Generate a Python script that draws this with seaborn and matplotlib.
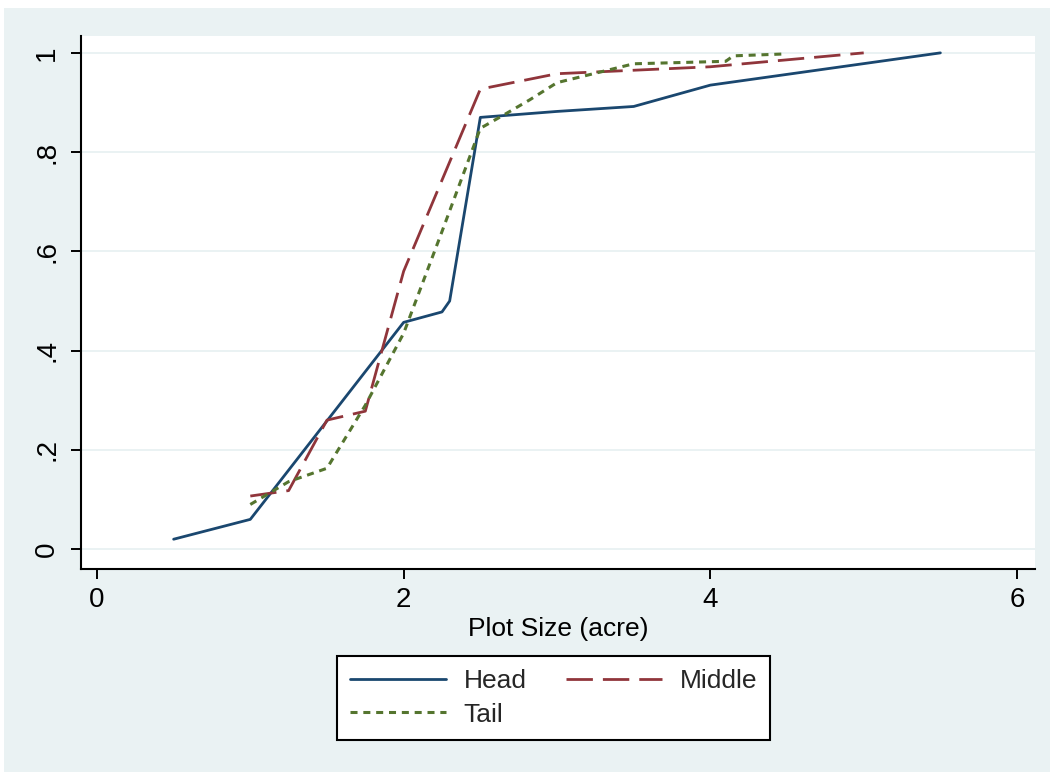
import matplotlib
matplotlib.use("Agg")
import matplotlib.pyplot as plt
import seaborn as sns
from matplotlib.patches import Rectangle

# ---- data ----
head_x = [0.5, 1.0, 2.0, 2.25, 2.3, 2.5, 3.0, 3.5, 4.0, 5.5]
head_y = [0.02, 0.06, 0.457, 0.478, 0.50, 0.870, 0.882, 0.892, 0.935, 1.0]

middle_x = [1.0, 1.25, 1.5, 1.75, 2.0, 2.5, 3.0, 3.5, 4.0, 5.0]
middle_y = [0.107, 0.118, 0.26, 0.278, 0.56, 0.927, 0.958, 0.965, 0.972, 1.0]

tail_x = [1.0, 1.25, 1.5, 1.75, 2.0, 2.25, 2.5, 2.67, 2.82, 3.0, 3.25, 3.5, 4.1, 4.15, 4.5]
tail_y = [0.09, 0.136, 0.163, 0.29, 0.435, 0.64, 0.848, 0.878, 0.905, 0.94, 0.959, 0.978, 0.983, 0.994, 0.998]

series_labels = ["Head", "Middle", "Tail"]
x_ticks = [0, 2, 4, 6]
x_tick_labels = ["0", "2", "4", "6"]
y_ticks = [0, 0.2, 0.4, 0.6, 0.8, 1.0]
y_tick_labels = ["0", ".2", ".4", ".6", ".8", "1"]
x_label = "Plot Size (acre)"

# ---- style ----
sns.set_theme(style="white")
plt.rcParams["font.family"] = ["Liberation Sans", "DejaVu Sans"]

NAVY = "#1a476f"
MAROON = "#90353b"
GREEN = "#55752f"
BG = "#eaf2f3"

fig = plt.figure(figsize=(10.5, 7.72), dpi=100)
fig.patch.set_facecolor("white")
fig.patches.append(Rectangle((4 / 1050, 0), 1, (772 - 8) / 772,
                             transform=fig.transFigure, facecolor=BG,
                             edgecolor="none", zorder=-10))

ax = fig.add_axes([81 / 1050, 1 - 569 / 772, (1035 - 81) / 1050, (569 - 36) / 772])
ax.set_facecolor("white")

lw = 2.0
sns.lineplot(x=head_x, y=head_y, ax=ax, color=NAVY, linewidth=lw,
             label=series_labels[0], sort=False, estimator=None)
sns.lineplot(x=middle_x, y=middle_y, ax=ax, color=MAROON, linewidth=lw,
             label=series_labels[1], sort=False, estimator=None,
             linestyle=(0, (9.5, 3.6)))
sns.lineplot(x=tail_x, y=tail_y, ax=ax, color=GREEN, linewidth=lw + 0.2,
             label=series_labels[2], sort=False, estimator=None,
             linestyle=(0, (2.3, 1.9)))

ax.set_xlim(-0.104, 6.117)
ax.set_ylim(-0.040, 1.034)

ax.set_xticks(x_ticks)
ax.set_xticklabels(x_tick_labels, fontsize=20)
ax.set_yticks(y_ticks)
ax.set_yticklabels(y_tick_labels, fontsize=20, rotation=90, va="center")

ax.tick_params(axis="both", which="major", direction="out", length=7,
               width=1.4, color="black", labelcolor="black",
               left=True, bottom=True)
ax.tick_params(axis="x", pad=6)
ax.tick_params(axis="y", pad=8)

ax.yaxis.grid(True, color=BG, linewidth=1.4)
ax.xaxis.grid(False)
ax.set_axisbelow(True)

for side in ["top", "right"]:
    ax.spines[side].set_visible(False)
for side in ["left", "bottom"]:
    ax.spines[side].set_visible(True)
    ax.spines[side].set_color("black")
    ax.spines[side].set_linewidth(1.5)

ax.set_xlabel(x_label, fontsize=19, color="black", labelpad=3)
ax.set_ylabel("")

handles, labels = ax.get_legend_handles_labels()
if ax.legend_ is not None:
    ax.legend_.remove()
order = [labels.index("Head"), labels.index("Tail"), labels.index("Middle")]
leg = fig.legend([handles[i] for i in order], [labels[i] for i in order],
                 loc="center", bbox_to_anchor=(553.5 / 1050, 1 - 698 / 772),
                 ncol=2, fontsize=19, frameon=True, fancybox=False,
                 shadow=False, handlelength=3.65, handletextpad=0.65,
                 columnspacing=1.5, labelspacing=0.35, borderpad=0.5)
leg.get_frame().set_edgecolor("black")
leg.get_frame().set_linewidth(1.5)
leg.get_frame().set_facecolor("white")
leg.get_frame().set_alpha(1)

fig.savefig("out.png", dpi=100, facecolor=fig.get_facecolor())
